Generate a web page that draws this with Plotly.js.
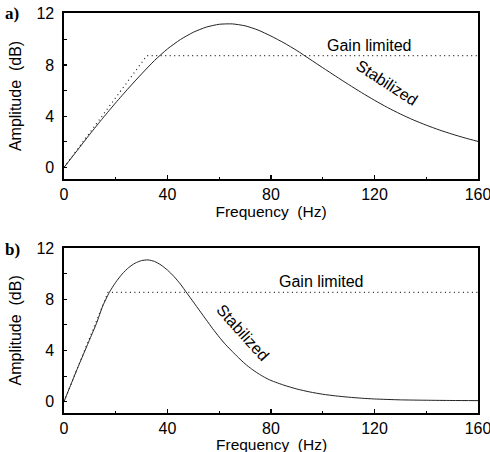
<!DOCTYPE html>
<html>
<head>
<meta charset="utf-8">
<script src="https://cdn.plot.ly/plotly-3.0.1.min.js"></script>
<style>html,body{margin:0;padding:0;background:#fff;}#chart{width:490px;height:452px;}</style>
</head>
<body>
<div id="chart"></div>
<script>
// Panel a) — stabilized response
const freqA = [0,5,10,15,20,25,30,35,40,45,50,55,60,65,70,75,80,85,90,95,100,105,110,115,120,125,130,135,140,145,150,155,160];
const stabA = [0,1.3,2.6,3.85,5.05,6.2,7.3,8.35,9.25,9.98,10.55,10.95,11.17,11.2,11.05,10.72,10.25,9.72,9.12,8.45,7.78,7.12,6.47,5.84,5.24,4.68,4.17,3.71,3.30,2.93,2.60,2.30,2.03];
// Panel a) — gain limited
const gainFreqA = [0,32,160];
const gainA = [0,8.72,8.72];

// Panel b) — stabilized response
const freqB = [0,2.5,5,7.5,10,12.5,15,17.5,20,22.5,25,27.5,30,32.5,35,37.5,40,42.5,45,47.5,50,52.5,55,57.5,60,62.5,65,67.5,70,72.5,75,77.5,80,85,90,95,100,105,110,115,120,130,140,150,160];
const stabB = [0,1.25,2.5,3.7,4.9,6.1,7.5,8.55,9.35,10.0,10.5,10.85,11.05,11.1,10.98,10.7,10.3,9.8,9.2,8.5,7.8,7.1,6.4,5.7,5.05,4.45,3.93,3.42,2.95,2.55,2.2,1.9,1.65,1.28,0.98,0.75,0.57,0.44,0.34,0.26,0.2,0.13,0.1,0.08,0.07];
// Panel b) — gain limited
const gainFreqB = [0,17,160];
const gainB = [0,8.55,8.55];

const xTicks = [0,40,80,120,160];
const yTicks = [0,4,8,12];
const panelLabels = ['a)','b)'];
const seriesLabels = ['Gain limited','Stabilized'];
const xTitle = 'Frequency  (Hz)';
const yTitle = 'Amplitude  (dB)';

const FONT = 'Liberation Sans, Arial, Helvetica, sans-serif';
const solid = {color:'#222', width:1, shape:'spline', smoothing:0.6};
const dotted = {color:'#222', width:1.2, dash:'1px,3.5px'};

const traces = [
  {x:freqA, y:stabA, xaxis:'x', yaxis:'y', mode:'lines', line:solid, hoverinfo:'skip'},
  {x:gainFreqA, y:gainA, xaxis:'x', yaxis:'y', mode:'lines', line:dotted, hoverinfo:'skip'},
  {x:freqB, y:stabB, xaxis:'x2', yaxis:'y2', mode:'lines', line:solid, hoverinfo:'skip'},
  {x:gainFreqB, y:gainB, xaxis:'x2', yaxis:'y2', mode:'lines', line:dotted, hoverinfo:'skip'}
];

function xax(anchor, withTitle){
  const ax = {
    anchor:anchor, range:[0,160], tickvals:xTicks, ticktext:xTicks.map(String),
    ticks:'inside', ticklen:4, tickwidth:1.2, tickcolor:'#000',
    minor:{ticks:'inside', tickvals:[20,60,100,140], ticklen:2.5, tickwidth:1, tickcolor:'#000'},
    showline:true, mirror:true, linecolor:'#000', linewidth:1.6,
    showgrid:false, zeroline:false,
    ticklabeloverflow:'allow',
    tickfont:{family:FONT, size:16, color:'#000'},
    fixedrange:true
  };
  if(withTitle) ax.title = {text:xTitle, font:{family:FONT, size:15.5, color:'#000'}, standoff:1};
  return ax;
}
function yax(anchor, domain){
  return {
    anchor:anchor, domain:domain, range:[-0.9,12.05], tickvals:yTicks, ticktext:yTicks.map(String),
    ticks:'inside', ticklen:3, tickwidth:1.2, tickcolor:'#000',
    minor:{ticks:'inside', tickvals:[2,6,10], ticklen:2.5, tickwidth:1, tickcolor:'#000'},
    showline:true, mirror:true, linecolor:'#000', linewidth:1.6,
    showgrid:false, zeroline:false,
    tickfont:{family:FONT, size:16, color:'#000'},
    ticklabelstandoff:5,
    title:{text:yTitle, font:{family:FONT, size:16, color:'#000'}},
    fixedrange:true
  };
}

const ann = [
  {xref:'paper', yref:'paper', x:-0.125, y:1.0, xanchor:'center', yanchor:'middle', text:'<b>'+panelLabels[0]+'</b>', showarrow:false, font:{family:'Liberation Serif, Times New Roman, serif', size:17, color:'#000'}},
  {xref:'paper', yref:'paper', x:-0.125, y:0.41, xanchor:'center', yanchor:'middle', text:'<b>'+panelLabels[1]+'</b>', showarrow:false, font:{family:'Liberation Serif, Times New Roman, serif', size:17, color:'#000'}},
  {xref:'x', yref:'y', x:118, y:9.55, text:seriesLabels[0], showarrow:false, font:{family:FONT, size:16, color:'#000'}},
  {xref:'x', yref:'y', x:124.5, y:6.6, text:seriesLabels[1], textangle:33, showarrow:false, font:{family:FONT, size:16, color:'#000'}},
  {xref:'x2', yref:'y2', x:99.5, y:9.4, text:seriesLabels[0], showarrow:false, font:{family:FONT, size:16, color:'#000'}},
  {xref:'x2', yref:'y2', x:69, y:5.4, text:seriesLabels[1], textangle:48, showarrow:false, font:{family:FONT, size:16, color:'#000'}},
  {xref:'x2 domain', yref:'paper', x:0.5, y:0, yanchor:'middle', yshift:-31.5, text:xTitle, showarrow:false, font:{family:FONT, size:15.5, color:'#000'}}
];

const layout = {
  width:490, height:452,
  margin:{l:64, r:12, t:13, b:39},
  paper_bgcolor:'#fff', plot_bgcolor:'#fff',
  showlegend:false,
  xaxis:xax('y', true), yaxis:yax('x',[0.585,1]),
  xaxis2:xax('y2', false), yaxis2:yax('x2',[0,0.413]),
  annotations:ann,
  font:{family:FONT, color:'#000'}
};

Plotly.newPlot('chart', traces, layout, {displayModeBar:false, staticPlot:true});
</script>
</body>
</html>
